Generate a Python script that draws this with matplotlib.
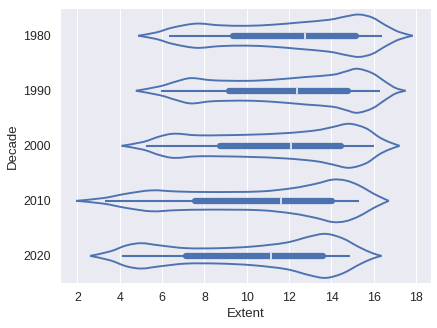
import numpy as np
import matplotlib
matplotlib.use('Agg')
import matplotlib.pyplot as plt
from matplotlib.path import Path
from matplotlib.patches import PathPatch
import seaborn as sns

### values ###
decades = ['1980', '1990', '2000', '2010', '2020']

# violin outline: extent positions and half widths (category units)
prof_x = {
    '1980': [4.87, 5.73, 6.52, 7.62, 8.71, 9.97, 11.22, 12.48, 13.89, 14.67, 15.30, 15.93, 16.56, 17.18, 17.84],
    '1990': [4.76, 5.89, 6.68, 7.38, 8.40, 9.97, 11.22, 12.79, 14.05, 14.67, 15.22, 15.93, 16.56, 17.03, 17.50],
    '2000': [4.09, 5.11, 5.89, 6.60, 7.77, 9.97, 11.85, 13.26, 14.05, 14.83, 15.62, 16.24, 16.71, 17.22],
    '2010': [1.94, 3.22, 4.32, 5.50, 6.68, 8.24, 10.60, 12.16, 13.26, 14.05, 14.67, 15.30, 16.09, 16.71],
    '2020': [2.60, 3.54, 4.32, 5.03, 5.89, 7.14, 8.71, 10.28, 11.85, 12.95, 13.73, 14.52, 15.30, 15.93, 16.37],
}
prof_w = {
    '1980': [0.0, 0.06, 0.15, 0.22, 0.19, 0.18, 0.20, 0.24, 0.29, 0.35, 0.385, 0.33, 0.19, 0.07, 0.0],
    '1990': [0.0, 0.08, 0.17, 0.23, 0.19, 0.18, 0.20, 0.25, 0.29, 0.35, 0.40, 0.32, 0.16, 0.05, 0.0],
    '2000': [0.0, 0.07, 0.17, 0.22, 0.19, 0.20, 0.23, 0.28, 0.34, 0.40, 0.32, 0.16, 0.07, 0.0],
    '2010': [0.0, 0.05, 0.13, 0.19, 0.17, 0.16, 0.17, 0.23, 0.31, 0.385, 0.37, 0.28, 0.11, 0.0],
    '2020': [0.0, 0.08, 0.19, 0.23, 0.19, 0.14, 0.14, 0.17, 0.24, 0.35, 0.40, 0.32, 0.16, 0.05, 0.0],
}

# inner box: quartiles, median, whisker ends
q1 = [9.37, 9.18, 8.75, 7.54, 7.11]
q3 = [15.15, 14.80, 14.44, 14.02, 13.62]
med = [12.75, 12.38, 12.07, 11.60, 11.13]
whis_lo = [6.33, 5.94, 5.23, 3.30, 4.09]
whis_hi = [16.40, 16.29, 16.01, 15.30, 14.88]


def smooth_path(xs, ys):
    # catmull-rom through the read points, drawn as cubic bezier segments
    pts = np.column_stack([xs, ys])
    verts = [pts[0]]
    codes = [Path.MOVETO]
    n = len(pts)
    for k in range(n - 1):
        p0 = pts[max(k - 1, 0)]
        p1 = pts[k]
        p2 = pts[k + 1]
        p3 = pts[min(k + 2, n - 1)]
        verts += [p1 + (p2 - p0) / 6, p2 - (p3 - p1) / 6, p2]
        codes += [Path.CURVE4] * 3
    return verts, codes


sns.set_theme()
plt.rcParams['font.family'] = ['Liberation Sans', 'DejaVu Sans']
color = sns.color_palette()[0]
dpi = 68.4
fig = plt.figure(figsize=(438 / dpi, 328 / dpi), dpi=dpi)
ax = fig.add_axes([0.137, 0.136, 0.846, 0.839])

lw = 2.0
box_w = 6.6
for i, d in enumerate(decades):
    x = np.array(prof_x[d])
    w = np.array(prof_w[d])
    v1, c1 = smooth_path(x, i - w)
    v2, c2 = smooth_path(x, i + w)
    ax.add_patch(PathPatch(Path(v1, c1), facecolor='none', edgecolor=color, linewidth=lw))
    ax.add_patch(PathPatch(Path(v2, c2), facecolor='none', edgecolor=color, linewidth=lw))
    ax.plot([whis_lo[i], whis_hi[i]], [i, i], color=color, linewidth=2.2, solid_capstyle='butt')
    ax.plot([q1[i], q3[i]], [i, i], color=color, linewidth=box_w, solid_capstyle='round')
    ax.plot(med[i], i, marker='|', color='white', markersize=box_w, markeredgewidth=1.6)

ax.set_yticks(range(len(decades)))
ax.set_yticklabels(decades)
ax.set_ylim(4.5, -0.5)
ax.set_xlim(1.18, 18.68)
ax.set_xticks(np.arange(2, 19, 2))
ax.yaxis.grid(False)
ax.tick_params(labelsize=13)
ax.set_xlabel('Extent', fontsize=14)
ax.set_ylabel('Decade', fontsize=14)

fig.savefig('out.png', dpi=dpi)
